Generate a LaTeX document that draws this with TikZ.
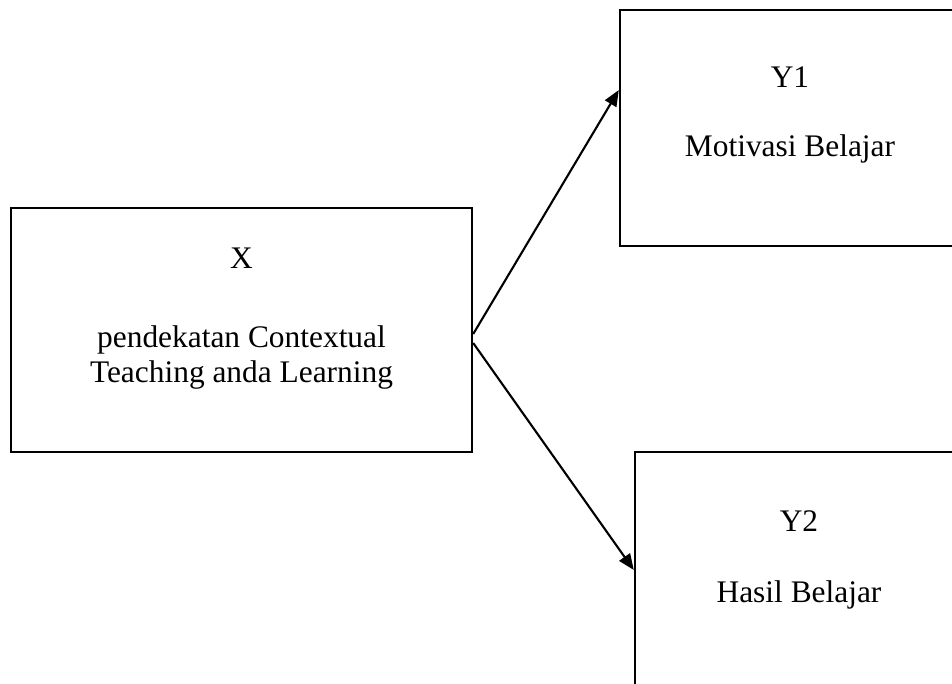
\documentclass[tikz,border=0pt]{standalone}
\usepackage{fontspec}
\setmainfont{Liberation Serif}
\usetikzlibrary{arrows.meta}
\begin{document}
\begin{tikzpicture}[x=0.5pt,y=-0.5pt,
  box/.style={draw,line width=1.2pt,rectangle,inner sep=0pt},
  lbl/.style={anchor=base,inner sep=0pt,font=\fontsize{15.7pt}{18pt}\selectfont},
  arr/.style={line width=1.05pt,-{Triangle[length=8pt,width=6.5pt]}}]
\useasboundingbox (0,0) rectangle (952,684);
\clip (0,0) rectangle (952,684);
\node[box,minimum width=230.5pt,minimum height=122pt] (X) at (241.5,330) {};
\node[box,minimum width=170pt,minimum height=118pt] (Y1) at (790,128) {};
\node[box,minimum width=164pt,minimum height=118pt] (Y2) at (799,570) {};
\node[lbl] (xa) at (241.5,268) {X};
\node[lbl] (xb) at (241.5,347) {pendekatan Contextual};
\node[lbl] (xc) at (241.5,382) {Teaching anda Learning};
\node[lbl] (ya) at (790,88) {Y1};
\node[lbl] (yb) at (790,157) {Motivasi Belajar};
\node[lbl] (za) at (799,531) {Y2};
\node[lbl] (zb) at (799,602) {Hasil Belajar};
\draw[arr] ([yshift=-2pt]X.east) -- ([yshift=19pt]Y1.west);
\draw[arr] ([yshift=-6.5pt]X.east) -- (Y2.west);
\end{tikzpicture}
\end{document}
